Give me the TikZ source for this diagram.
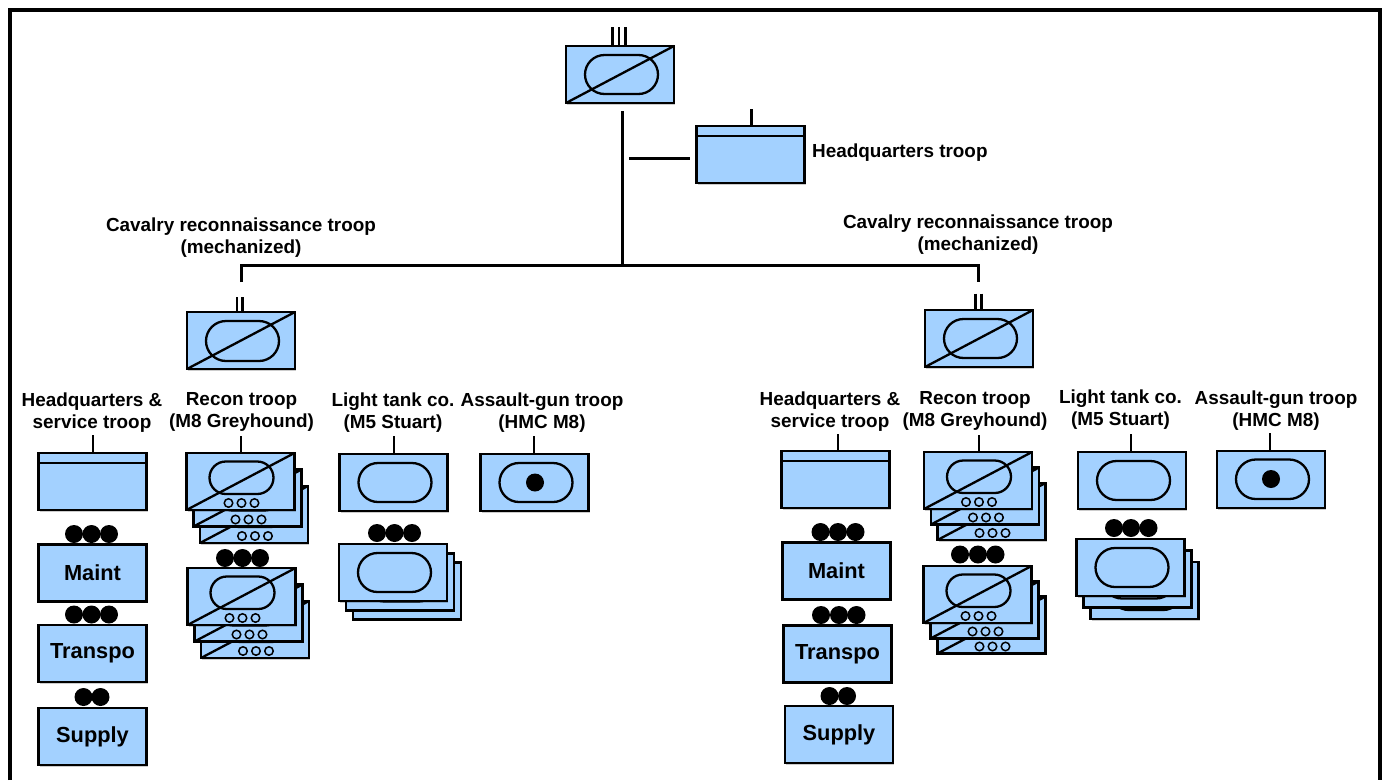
\documentclass[tikz,border=0pt]{standalone}
\usepackage{fontspec}
\setmainfont{Liberation Sans}
\usetikzlibrary{shapes.misc,shadows}
\definecolor{unitblue}{HTML}{A3D1FF}
\tikzset{
  x=1pt,y=-1pt,
  ubox/.style={draw=black,fill=unitblue,line width=2.3pt,minimum width=108pt,minimum height=57pt,
    inner sep=0pt,outer sep=0pt,anchor=north west,
    drop shadow={shadow xshift=1.2pt,shadow yshift=-1.8pt,opacity=.2,fill=black}},
  ovalshape/.style={draw=black,line width=2.3pt,rounded rectangle,rounded rectangle arc length=180,inner sep=0pt,outer sep=0pt},
  bdot/.style={circle,fill=black,draw=none,minimum size=18pt,inner sep=0pt,outer sep=0pt},
  wdot/.style={circle,draw=black,line width=1.5pt,fill=unitblue,minimum size=8.5pt,inner sep=0pt,outer sep=0pt},
  conn/.style={draw=black,line width=3pt},
  tick/.style={draw=black,line width=2.4pt},
  diag/.style={draw=black,line width=2.3pt},
  divider/.style={draw=black,line width=2.3pt},
  lab/.style={font=\fontsize{18.9}{22}\selectfont\bfseries,align=center,inner sep=0pt,text=black},
  blab/.style={font=\fontsize{21.8}{24}\selectfont\bfseries,align=center,inner sep=0pt,text=black},
}
% name, left, top, oval offset x, oval offset y, oval width, oval height
\newcommand\ovalunit[7]{%
  \node[ubox] (#1) at (#2,#3) {};
  \node[ovalshape,minimum width=#6pt,minimum height=#7pt] (#1o) at (#2+#4+#6/2,#3+#5+#7/2) {};
}
\newcommand\cavunit[7]{%
  \ovalunit{#1}{#2}{#3}{#4}{#5}{#6}{#7}
  \draw[diag] (#1.south west) -- (#1.north east);
}
\newcommand\reconunit[3]{%
  \cavunit{#1}{#2}{#3}{23}{8.5}{64}{32.5}
  \node[wdot] (#1a) at (#2+42,#3+50) {};
  \node[wdot] (#1b) at (#2+55,#3+50) {};
  \node[wdot] (#1c) at (#2+68,#3+50) {};
}
% name, left, top, dx1, dy1, dx2, dy2
\newcommand\reconstack[7]{%
  \reconunit{#1z}{#2+#6}{#3+#7}
  \reconunit{#1y}{#2+#4}{#3+#5}
  \reconunit{#1}{#2}{#3}
}
\newcommand\tankstack[7]{%
  \ovalunit{#1z}{#2+#6}{#3+#7}{19}{9}{73}{39}
  \ovalunit{#1y}{#2+#4}{#3+#5}{19}{9}{73}{39}
  \ovalunit{#1}{#2}{#3}{19}{9}{73}{39}
}
\newcommand\hqunit[3]{%
  \node[ubox] (#1) at (#2,#3) {};
  \draw[divider] ([yshift=-10pt]#1.north west) -- ([yshift=-10pt]#1.north east);
}
\newcommand\tickto[4]{%
  \coordinate (#1t) at (#2,#3);
  \draw[tick] (#1t) -- (#1t |- #4.north);
}
\begin{document}
\begin{tikzpicture}
\useasboundingbox (0,0) rectangle (1385,780);
\fill[white] (0,0) rectangle (1385,780);
% frame
\draw[black,line width=3.5pt] (10,780) -- (10,10) -- (1380,10) -- (1380,780);

% regiment
\cavunit{reg}{566}{46}{19}{9}{73}{39}
\foreach \n/\x in {a/612.5,b/619,c/625.5}{\coordinate (reg\n) at (\x,27); \draw[tick] (reg\n) -- (reg\n |- reg.north);}
\hqunit{rhq}{696.5}{126}
\tickto{rhq}{751.5}{109}{rhq}
\node[lab,anchor=west] (rhql) at (812,153) {Headquarters troop};
\coordinate (trunktop) at (622,111);
\coordinate (trunkbot) at (622,265);
\coordinate (sidea) at (629,158);
\coordinate (sideb) at (690,158);
\coordinate (ldrop) at (241,282);
\coordinate (rdrop) at (978.5,282);
\draw[conn] (trunktop) -- (trunkbot);
\draw[conn] (sidea) -- (sideb);
\draw[conn] (ldrop) |- (trunkbot) -| (rdrop);

% ---------- left squadron
\node[lab] (lsq) at (241,237.5) {Cavalry reconnaissance troop\\(mechanized)};
\cavunit{ls}{187}{312}{19}{9}{73}{40}
\foreach \n/\x in {a/237,b/242.5}{\coordinate (ls\n) at (\x,297); \draw[tick] (ls\n) -- (ls\n |- ls.north);}

\node[lab] (lhql) at (92,412.5) {Headquarters \&\\service troop};
\hqunit{lhq}{38.5}{453}
\tickto{lhq}{93}{435}{lhq}
\foreach \n/\x in {a/74,b/91.5,c/109}{\node[bdot] (lhd\n) at (\x,534) {};}
\node[ubox,blab] (lm) at (38.5,544.5) {Maint};
\foreach \n/\x in {a/74,b/91.5,c/109}{\node[bdot] (lmd\n) at (\x,614.5) {};}
\node[ubox,blab] (lt) at (38.5,625) {Transpo};
\foreach \n/\x in {a/83.5,b/100.5}{\node[bdot] (ltd\n) at (\x,697) {};}
\node[ubox,blab] (ls2) at (38.5,708) {Supply};

\node[lab] (lrl) at (241.5,412) {Recon troop\\(M8 Greyhound)};
\reconstack{lr}{186.5}{453}{7}{16.5}{13.5}{33}
\tickto{lr}{241}{436}{lr}
\foreach \n/\x in {a/225,b/242.5,c/260}{\node[bdot] (lrd\n) at (\x,558) {};}
\reconstack{lq}{187.5}{568}{7}{16.5}{13.5}{33}

\node[lab] (lll) at (393,412.5) {Light tank co.\\(M5 Stuart)};
\ovalunit{ll}{339.5}{454}{19}{9}{73}{39}
\tickto{ll}{394}{436}{ll}
\foreach \n/\x in {a/377,b/394.5,c/412}{\node[bdot] (lld\n) at (\x,533) {};}
\tankstack{lk}{339}{544}{7}{9.5}{14}{18.5}

\node[lab] (lal) at (542,412.5) {Assault-gun troop\\(HMC M8)};
\ovalunit{la}{480.5}{454}{19}{9}{73}{39}
\node[bdot] (lad) at (535,482.5) {};
\tickto{la}{534}{436}{la}

% ---------- right squadron
\node[lab] (rsq) at (978,234.5) {Cavalry reconnaissance troop\\(mechanized)};
\cavunit{rs}{925}{310}{19}{9}{73}{39}
\foreach \n/\x in {a/975.5,b/981.5}{\coordinate (rs\n) at (\x,293.5); \draw[tick] (rs\n) -- (rs\n |- rs.north);}

\node[lab] (rhl) at (830,411.5) {Headquarters \&\\service troop};
\hqunit{rh}{781.5}{451}
\tickto{rh}{838}{434}{rh}
\foreach \n/\x in {a/820.5,b/838,c/855.5}{\node[bdot] (rhd\n) at (\x,532) {};}
\node[ubox,blab] (rm) at (782.5,542.5) {Maint};
\foreach \n/\x in {a/821,b/839,c/856.5}{\node[bdot] (rmd\n) at (\x,615) {};}
\node[ubox,blab] (rt) at (783.5,625.5) {Transpo};
\foreach \n/\x in {a/829.5,b/847}{\node[bdot] (rtd\n) at (\x,696) {};}
\node[ubox,blab] (rs2) at (785,706) {Supply};

\node[lab] (rrl) at (975,410.5) {Recon troop\\(M8 Greyhound)};
\reconstack{rr}{924}{452}{7}{15.5}{13.5}{31}
\tickto{rr}{979}{435}{rr}
\foreach \n/\x in {a/960,b/978,c/995.5}{\node[bdot] (rrd\n) at (\x,554.5) {};}
\reconstack{rq}{923.5}{566}{7}{15.5}{14}{30.5}

\node[lab] (rll) at (1120.5,409.5) {Light tank co.\\(M5 Stuart)};
\ovalunit{rl}{1078}{452}{19}{9}{73}{39}
\tickto{rl}{1131}{434}{rl}
\foreach \n/\x in {a/1114,b/1131,c/1148.5}{\node[bdot] (rld\n) at (\x,528) {};}
\tankstack{rk}{1076.5}{539}{7}{11.5}{14}{23}

\node[lab] (ral) at (1276,410.5) {Assault-gun troop\\(HMC M8)};
\ovalunit{ra}{1217}{451}{19}{8.5}{73}{39.5}
\node[bdot] (rad) at (1271,479) {};
\tickto{ra}{1270}{433}{ra}
\end{tikzpicture}
\end{document}
